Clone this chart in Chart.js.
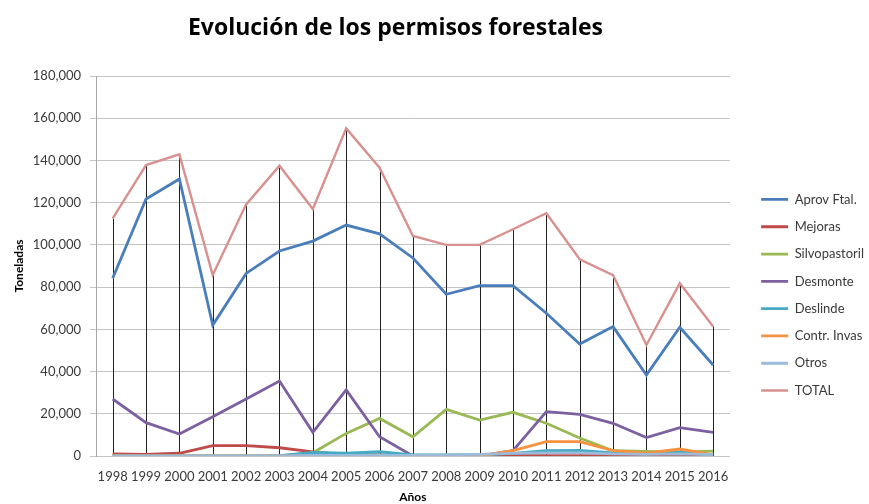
<!DOCTYPE html>
<html>
<head>
<meta charset="utf-8">
<script src="https://cdn.jsdelivr.net/npm/chart.js@4.4.1/dist/chart.umd.min.js"></script>
<style>
  html, body { margin: 0; padding: 0; background: #fff; }
</style>
</head>
<body>
<canvas id="permisosChart" width="869" height="504"></canvas>
<script>
  const years = ['1998', '1999', '2000', '2001', '2002', '2003', '2004', '2005', '2006', '2007',
                 '2008', '2009', '2010', '2011', '2012', '2013', '2014', '2015', '2016'];

  // valores (toneladas)
  const aprovFtal     = [84200, 121700, 131200, 62000, 86500, 97100, 101800, 109400, 105200, 93800, 76600, 80700, 80700, 67600, 53000, 61300, 38400, 61000, 43100];
  const mejoras       = [950, 800, 1300, 4900, 4900, 3900, 2000, 700, 500, 300, 300, 300, 300, 200, 200, 200, 200, 200, 200];
  const silvopastoril = [0, 0, 0, 0, 0, 0, 1500, 10700, 17800, 9100, 22100, 17000, 20700, 15500, 8500, 2500, 2200, 2000, 2300];
  const desmonte      = [27000, 15800, 10400, 18600, 27000, 35500, 11200, 31300, 9100, 0, 0, 0, 2500, 21000, 19700, 15500, 8700, 13400, 11200];
  const deslinde      = [0, 0, 0, 0, 0, 200, 1700, 1300, 2000, 500, 500, 600, 1200, 2500, 2600, 1500, 1000, 1800, 500];
  const contrInvas    = [0, 0, 0, 0, 0, 0, 0, 0, 0, 0, 0, 0, 2500, 6800, 6800, 2500, 1300, 3300, 500];
  const otros         = [0, 0, 0, 0, 0, 0, 300, 300, 300, 300, 500, 800, 1200, 1500, 1500, 1000, 800, 1000, 600];
  const total         = [112600, 137800, 142900, 85700, 119200, 137500, 117000, 155200, 136600, 104200, 100000, 100000, 107400, 115000, 93200, 85700, 52600, 81800, 61300];

  const yTicksStep = 20000;
  const yMax = 180000;

  const series = [
    { label: 'Aprov Ftal.',   data: aprovFtal,     color: '#4A7EBB' },
    { label: 'Mejoras',       data: mejoras,       color: '#BE4B48' },
    { label: 'Silvopastoril', data: silvopastoril, color: '#98B954' },
    { label: 'Desmonte',      data: desmonte,      color: '#7D60A0' },
    { label: 'Deslinde',      data: deslinde,      color: '#46AAC5' },
    { label: 'Contr. Invas',  data: contrInvas,    color: '#F69240' },
    { label: 'Otros',         data: otros,         color: '#9BBBD9' },
    { label: 'TOTAL',         data: total,         color: '#D7918F' }
  ];

  const textColor = '#3a3a3a';

  // líneas de proyección (negras) desde el punto más alto hasta el eje
  const dropLines = {
    id: 'dropLines',
    beforeDatasetsDraw(chart) {
      const { ctx, scales: { x, y } } = chart;
      ctx.save();
      ctx.strokeStyle = '#222';
      ctx.lineWidth = 1;
      years.forEach((yr, i) => {
        const top = Math.max(...chart.data.datasets.map(ds => ds.data[i]));
        const px = Math.round(x.getPixelForValue(i)) + 0.5;
        ctx.beginPath();
        ctx.moveTo(px, y.getPixelForValue(top));
        ctx.lineTo(px, y.getPixelForValue(0));
        ctx.stroke();
      });
      ctx.restore();
    }
  };

  // ajuste de posición de la leyenda y el título
  const nudge = {
    id: 'nudge',
    afterLayout(chart) {
      const lg = chart.legend;
      lg.left += 17; lg.right += 17;
      lg.top += 43; lg.bottom += 43;
      const t = chart.titleBlock;
      t.left -= 33; t.right -= 33;
    }
  };

  const ctx = document.getElementById('permisosChart').getContext('2d');
  const permisosChart = new Chart(ctx, {
    type: 'line',
    data: {
      labels: years,
      datasets: series.map((s, i) => ({
        label: s.label,
        data: s.data,
        borderColor: s.color,
        backgroundColor: s.color,
        borderWidth: s.label === 'TOTAL' ? 2.4 : 2.8,
        pointRadius: 0,
        tension: 0,
        order: series.length - i
      }))
    },
    options: {
      responsive: false,
      animation: false,
      layout: { padding: { left: 0, right: 12, top: 0, bottom: 0 } },
      plugins: {
        title: {
          display: true,
          text: 'Evolución de los permisos forestales',
          color: '#000',
          font: { family: 'Open Sans', size: 23, weight: 'bold' },
          padding: { top: 15, bottom: 33.4 }
        },
        legend: {
          position: 'right',
          labels: {
            boxWidth: 27,
            boxHeight: 0,
            padding: 14.3,
            color: textColor,
            font: { family: 'Lato', size: 13 },
            sort: (a, b) => a.datasetIndex - b.datasetIndex
          }
        },
        tooltip: { enabled: false }
      },
      scales: {
        x: {
          offset: true,
          grid: { display: false, drawTicks: false },
          border: { display: false },
          ticks: {
            color: textColor,
            font: { family: 'Lato', size: 13 },
            padding: 13,
            maxRotation: 0,
            autoSkip: false
          },
          title: {
            display: true,
            text: 'Años',
            color: '#000',
            font: { family: 'Lato', size: 12, weight: 'bold' },
            padding: { top: 4, bottom: 0 }
          },
          afterFit(scale) { scale.height = 48; }
        },
        y: {
          min: 0,
          max: yMax,
          grid: { color: '#c4c4c4', lineWidth: 1, tickLength: 6 },
          border: { color: '#a8a8a8' },
          ticks: {
            stepSize: yTicksStep,
            padding: 9,
            color: textColor,
            font: { family: 'Lato', size: 13 },
            callback: v => v.toLocaleString('en-US')
          },
          title: {
            display: true,
            text: 'Toneladas',
            color: '#000',
            font: { family: 'Lato', size: 12, weight: 'bold' },
            padding: { top: 12, bottom: 0 }
          },
          afterFit(scale) { scale.width = 96; }
        }
      }
    },
    plugins: [dropLines, nudge]
  });
</script>
</body>
</html>
